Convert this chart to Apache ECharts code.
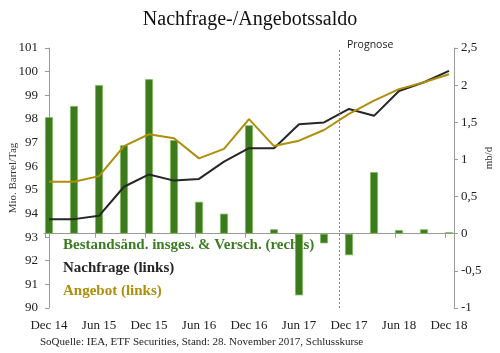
<!DOCTYPE html>
<html><head><meta charset="utf-8">
<script src="https://cdn.jsdelivr.net/npm/echarts@6/dist/echarts.min.js"></script>
<style>html,body{margin:0;padding:0;background:#fff}#c{width:500px;height:353px}</style>
</head><body><div id="c"></div>
<script>
// Quarterly categories (Dec 14 .. Dec 18)
const quarters = ['Dec 14','Mar 15','Jun 15','Sep 15','Dec 15','Mar 16','Jun 16','Sep 16','Dec 16','Mar 17','Jun 17','Sep 17','Dec 17','Mar 18','Jun 18','Sep 18','Dec 18'];
// Tick labels shown on the x axis (every second quarter)
const tickLabels = ['Dec 14','Jun 15','Dec 15','Jun 16','Dec 16','Jun 17','Dec 17','Jun 18','Dec 18'];
// Stock change incl. miscellaneous (mb/d, right axis)
const bestand = [1.57, 1.72, 2.0, 1.19, 2.08, 1.26, 0.43, 0.27, 1.46, 0.06, -0.83, -0.13, -0.29, 0.83, 0.05, 0.06, 0.02];
// Demand (left axis)
const nachfrage = [93.76, 93.76, 93.9, 95.13, 95.65, 95.39, 95.46, 96.19, 96.76, 96.76, 97.77, 97.85, 98.42, 98.13, 99.18, 99.55, 100.03];
// Supply (left axis)
const angebot = [95.34, 95.34, 95.58, 96.85, 97.35, 97.18, 96.33, 96.73, 97.99, 96.85, 97.08, 97.53, 98.21, 98.77, 99.26, 99.55, 99.89];
// Forecast start (position between Sep 17 and Dec 17)
const prognosePos = 11.6;

const serif = '"Liberation Serif", "DejaVu Serif", serif';
const axisGrey = '#9a9a9a';
const pairs = arr => arr.map((v, i) => [i, v]);
const tickPos = tickLabels.map((_, k) => k * 2);

const chart = echarts.init(document.getElementById('c'), null, {renderer: 'canvas'});
chart.setOption({
  animation: false,
  backgroundColor: '#fff',
  title: {
    text: 'Nachfrage-/Angebotssaldo', left: 'center', top: 5,
    textStyle: {fontFamily: serif, fontSize: 20, fontWeight: 'normal', color: '#111'}
  },
  grid: {left: 44, right: 46, top: 48, bottom: 45, containLabel: false, outerBoundsMode: 'none'},
  legend: {
    orient: 'vertical', left: 52, top: 232, z: 0,
    icon: 'rect', itemWidth: 0, itemHeight: 0, itemGap: 7,
    textStyle: {fontFamily: serif, fontSize: 15, fontWeight: 'bold', lineHeight: 16},
    data: [
      {name: 'Bestandsänd. insges. & Versch. (rechts)', textStyle: {color: '#3b7d23'}},
      {name: 'Nachfrage (links)', textStyle: {color: '#262626'}},
      {name: 'Angebot (links)', textStyle: {color: '#ad8f0b'}}
    ]
  },
  xAxis: {
    type: 'value', min: -0.2, max: 16.2,
    splitLine: {show: false},
    axisLine: {show: true, lineStyle: {color: axisGrey}},
    axisTick: {show: true, length: 4, lineStyle: {color: axisGrey}, customValues: tickPos.map(p => p - 0.15)},
    axisLabel: {
      customValues: tickPos, margin: 11,
      fontFamily: serif, fontSize: 13, color: '#222',
      formatter: v => quarters[Math.round(v)]
    }
  },
  yAxis: [
    {
      type: 'value', min: 90, max: 101, interval: 1,
      name: 'Mio. Barrel/Tag', nameLocation: 'middle', nameGap: 25, nameRotate: 90, nameMoveOverlap: false,
      nameTextStyle: {fontFamily: serif, fontSize: 11, color: '#333'},
      splitLine: {show: false},
      axisLine: {show: true, lineStyle: {color: axisGrey}},
      axisTick: {show: true, length: 4, lineStyle: {color: axisGrey}},
      axisLabel: {fontFamily: serif, fontSize: 13, color: '#222', margin: 6}
    },
    {
      type: 'value', min: -1, max: 2.5, interval: 0.5, position: 'right',
      name: 'mb/d', nameLocation: 'middle', nameGap: 30, nameRotate: 90, nameMoveOverlap: false,
      nameTextStyle: {fontFamily: serif, fontSize: 11, color: '#333', padding: [0, 0, 0, 40]},
      splitLine: {show: false},
      axisLine: {show: true, lineStyle: {color: axisGrey}},
      axisTick: {show: true, length: 4, lineStyle: {color: axisGrey}},
      axisLabel: {fontFamily: serif, fontSize: 13, color: '#222', margin: 7,
        formatter: v => String(v).replace('.', ',')}
    }
  ],
  series: [
    {
      name: 'Bestandsänd. insges. & Versch. (rechts)', type: 'bar', yAxisIndex: 1, z: 3,
      barWidth: 8,
      itemStyle: {color: '#3d7a1e', borderColor: '#86bb62', borderWidth: 0.8},
      data: pairs(bestand),
      markLine: {
        silent: true, symbol: 'none', label: {show: false},
        lineStyle: {color: '#888', type: [2, 2], width: 1},
        data: [{xAxis: prognosePos}]
      }
    },
    {
      name: 'Nachfrage (links)', type: 'line', yAxisIndex: 0, z: 4,
      symbol: 'none', lineStyle: {color: '#262626', width: 2}, itemStyle: {color: '#262626'},
      data: pairs(nachfrage)
    },
    {
      name: 'Angebot (links)', type: 'line', yAxisIndex: 0, z: 4,
      symbol: 'none', lineStyle: {color: '#ad8f0b', width: 2}, itemStyle: {color: '#ad8f0b'},
      data: pairs(angebot)
    }
  ],
  graphic: [
    {type: 'text', left: 347, top: 40, z: 10,
      style: {text: 'Prognose', fontFamily: '"Open Sans", "Noto Sans", sans-serif', fontSize: 10.5, fill: '#222'}},
    {type: 'text', left: 40, top: 337, z: 10,
      style: {text: 'SoQuelle: IEA, ETF Securities, Stand: 28. November 2017, Schlusskurse', fontFamily: serif, fontSize: 11, fill: '#222'}}
  ]
});
</script>
</body></html>
